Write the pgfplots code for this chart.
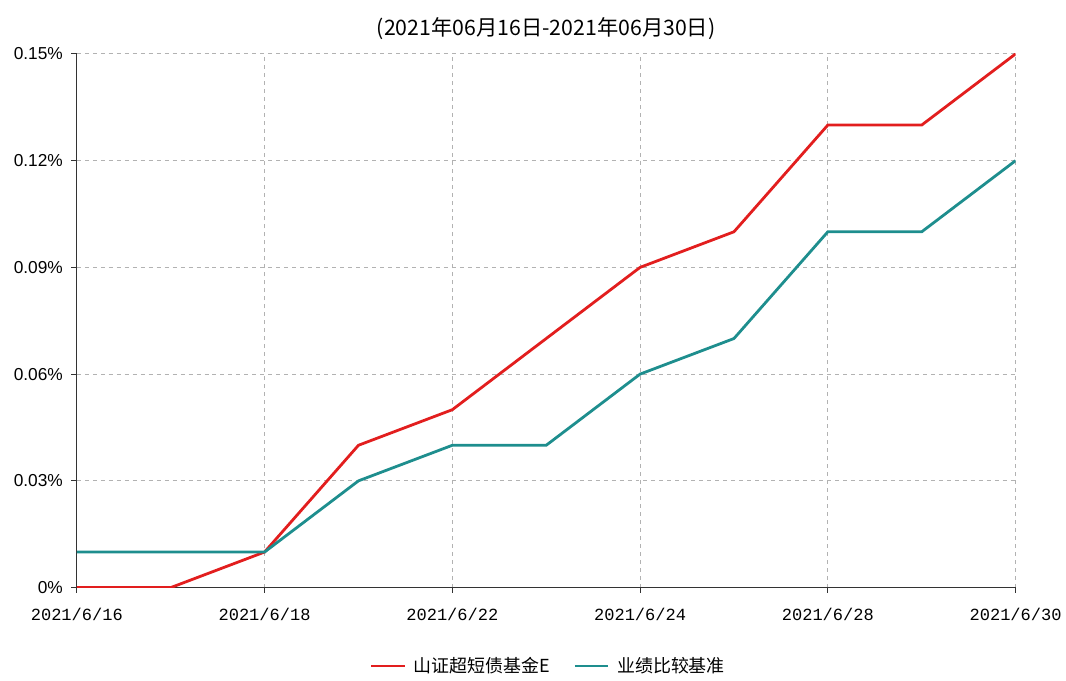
\documentclass[border=0pt]{standalone}
\usepackage{pgfplots}
\pgfplotsset{compat=1.18}
\usepackage{fontspec}
\setmainfont{Liberation Sans}
\newfontfamily\cjk{Noto Sans CJK SC}
\newfontfamily\monof{Liberation Mono}
\definecolor{sred}{RGB}{226,30,30}
\definecolor{steal}{RGB}{30,142,142}
\begin{document}
\begin{tikzpicture}
\begin{axis}[
  scale only axis, width=705.75pt, height=401.25pt,
  xmin=0, xmax=10, ymin=0, ymax=0.15,
  axis x line=bottom, axis y line=left,
  axis line style={-, black!80, line width=0.8pt},
  xtick={0,2,4,6,8,10},
  xticklabels={2021/6/16,2021/6/18,2021/6/22,2021/6/24,2021/6/28,2021/6/30},
  ytick={0,0.03,0.06,0.09,0.12,0.15},
  yticklabels={0\%,0.03\%,0.06\%,0.09\%,0.12\%,0.15\%},
  tick align=outside, major tick length=4pt,
  tick style={black!80, line width=0.8pt},
  grid=major, grid style={dashed, black!30, line width=0.6pt},
  xticklabel style={font=\monof\fontsize{12.8}{14}\selectfont, yshift=-8pt},
  yticklabel style={font=\fontsize{13}{15}\selectfont, xshift=-3pt},
  title={(2021年06月16日-2021年06月30日)},
  title style={font=\cjk\fontsize{16}{18}\selectfont, yshift=1pt},
  legend style={at={(0.503,-0.12)}, anchor=north, draw=none, fill=none,
    legend columns=2, font=\cjk\fontsize{13.5}{15}\selectfont,
    /tikz/every odd column/.append style={column sep=4pt},
    /tikz/every even column/.append style={column sep=16pt}},
  legend image code/.code={\draw[#1, line width=1.5pt] (0pt,0pt) -- (25pt,0pt);},
]
\addplot[sred, line width=2.1pt] table {
x y
0 0
1 0
2 0.01
3 0.04
4 0.05
5 0.07
6 0.09
7 0.10
8 0.13
9 0.13
10 0.15
};
\addlegendentry{山证超短债基金E}
\addplot[steal, line width=2.1pt] table {
x y
0 0.01
1 0.01
2 0.01
3 0.03
4 0.04
5 0.04
6 0.06
7 0.07
8 0.10
9 0.10
10 0.12
};
\addlegendentry{业绩比较基准}
\coordinate (O) at (rel axis cs:0,0);
\end{axis}
\path (O) ++(-57.75pt,-69.75pt) rectangle ++(799.5pt,511.5pt);
\end{tikzpicture}
\end{document}
